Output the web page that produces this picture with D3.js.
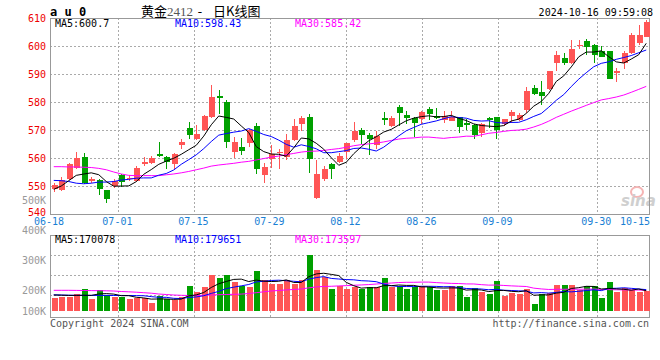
<!DOCTYPE html>
<html>
<head>
<meta charset="utf-8">
<script src="https://cdn.jsdelivr.net/npm/d3@7"></script>
<style>
  body { margin: 0; background: #fff; }
  text { font-family: "DejaVu Sans Mono", monospace; }
</style>
</head>
<body>
<div id="chart"></div>
<script>
// trading days shown, 06-18 .. 10-16
var dates = ["06-18","06-19","06-20","06-21","06-24","06-25","06-26","06-27","06-28",
  "07-01","07-02","07-03","07-04","07-05","07-08","07-09","07-10","07-11","07-12",
  "07-15","07-16","07-17","07-18","07-19","07-22","07-23","07-24","07-25","07-26",
  "07-29","07-30","07-31","08-01","08-02","08-05","08-06","08-07","08-08","08-09",
  "08-12","08-13","08-14","08-15","08-16","08-19","08-20","08-21","08-22","08-23",
  "08-26","08-27","08-28","08-29","08-30","09-02","09-03","09-04","09-05","09-06",
  "09-09","09-10","09-11","09-12","09-13","09-18","09-19","09-20","09-23","09-24",
  "09-25","09-26","09-27","09-30","10-08","10-09","10-10","10-11","10-14","10-15","10-16"];

var opens = [548.8,548.6,552.4,556.4,560.5,551.9,552.1,548.6,550.0,553.8,
  552.4,551.9,557.9,558.3,561.5,560.5,557.9,564.5,570.7,566.9,
  570.0,574.5,582.1,580.0,562.3,564.0,565.2,571.3,553.9,559.5,
  561.7,560.5,566.6,572.1,574.5,545.7,552.6,557.9,558.6,562.3,
  566.4,570.0,568.2,564.8,574.3,571.4,578.1,575.4,574.3,574.0,
  577.4,575.0,573.6,573.3,574.5,572.6,571.7,569.0,574.3,574.5,
  572.1,574.9,573.6,577.1,585.0,583.6,584.5,594.0,595.7,593.8,
  600.0,601.9,600.2,598.1,598.1,590.5,593.8,597.4,601.0,603.3];
var closes = [550.5,552.1,557.7,560.1,551.0,552.6,548.8,545.5,551.7,551.3,
  552.9,556.4,558.6,560.1,560.7,558.6,561.5,565.7,568.3,568.6,
  575.0,581.7,581.4,565.8,565.7,562.6,570.0,556.2,556.9,561.4,
  562.1,566.6,571.3,574.3,559.8,554.3,556.0,556.2,560.7,565.2,
  569.6,568.3,566.9,567.9,573.7,574.3,576.2,574.4,572.6,576.4,
  575.7,574.3,575.0,574.8,570.9,571.9,568.3,572.1,573.7,570.0,
  573.8,576.5,575.4,584.0,582.9,582.1,591.0,596.7,594.0,598.8,
  600.2,599.5,596.7,596.2,588.3,591.0,597.4,603.8,604.0,608.6];
var highs = [551.0,553.1,558.1,562.1,561.9,553.3,552.4,548.6,552.4,554.3,
  553.8,557.1,560.5,560.6,565.7,560.7,561.7,566.9,572.9,571.7,
  575.4,586.1,584.3,580.7,567.4,567.1,570.2,572.5,558.1,564.5,
  563.1,568.6,573.8,575.0,575.7,559.3,557.0,558.3,561.7,565.5,
  573.0,570.7,568.8,569.5,576.4,575.0,578.9,576.9,574.8,576.9,
  578.3,577.9,576.7,576.7,574.8,574.0,572.1,572.6,574.5,574.8,
  574.0,577.1,576.0,585.5,586.2,587.6,591.2,598.3,597.6,602.1,
  602.1,602.4,600.7,600.0,598.3,592.1,598.1,604.5,607.4,609.3];
var lows = [548.0,548.3,552.1,556.2,550.7,551.2,546.9,544.0,549.2,549.8,
  551.7,551.4,557.1,557.9,560.5,556.2,556.0,563.3,566.9,566.4,
  569.5,574.2,575.7,563.7,559.9,561.2,564.0,554.3,551.2,556.6,
  556.2,559.3,566.2,569.5,554.8,545.4,551.9,552.6,558.1,559.8,
  565.7,565.0,561.2,563.1,571.9,570.9,571.4,572.1,567.6,572.1,
  573.6,573.8,572.6,573.1,569.0,570.0,566.9,567.4,570.7,566.9,
  571.4,572.4,573.3,576.2,582.6,579.0,584.3,591.2,593.1,593.6,
  598.8,596.9,593.8,596.0,588.1,587.1,591.7,597.1,600.2,603.1];
// volume (lots)
var volumes = [106700,115100,117600,140300,182300,100800,173900,134400,117600,117600,
  100800,106700,106700,67200,123500,100800,89900,117600,207500,159600,
  201600,302400,274700,302400,246100,212500,201600,336000,257900,229300,
  224300,257900,229300,257900,470400,341900,285600,182300,207500,184800,
  201600,184800,201600,201600,274700,201600,212500,184800,201600,212500,
  201600,173900,173900,207500,207500,115100,190700,162100,140300,249500,
  123500,151200,145300,184800,56300,140300,151200,218400,218400,218400,
  173900,207500,212500,111200,241100,157100,190700,173900,162100,166500];

// moving averages before enough days are on screen
var ma5Head = [548.8, 550.0, 551.9, 553.8];
var ma10Head = [552.0, 551.9, 551.6, 551.0, 550.8, 551.0, 551.4, 551.4, 551.6];
var ma30Head = [556.9, 556.9, 556.8, 556.8, 556.7, 556.6, 556.3, 555.8, 555.0, 554.3,
  553.8, 553.7, 553.7, 553.7, 553.7, 554.0, 554.3, 554.7, 555.2, 555.8,
  556.4, 557.1, 557.5, 557.8, 558.1, 558.5, 558.8, 559.3, 559.8];
var vma5Head = [134400, 132700, 131000, 131000];
var vma10Head = [136100, 134400, 132700, 131900, 131000, 131000, 131000, 131000, 130200];
var vma30Head = [173900, 173900, 173900, 173000, 172200, 171400, 170500, 169700, 168000, 163800,
  161300, 157900, 153700, 149500, 142800, 138600, 134400, 131900, 130200, 130200,
  132700, 134400, 136900, 138600, 140300, 142000, 147000, 153700, 161300];

// legend values as printed on the chart
var priceLegend = ['MA5:600.7', 'MA10:598.43', 'MA30:585.42'];
var volLegend = ['MA5:170078', 'MA10:179651', 'MA30:173597'];

var priceTicks = [610, 600, 590, 580, 570, 560, 550, 540];
var volTicks = [500000, 400000, 300000, 200000, 100000];
var dateTicks = [0, 9, 19, 29, 39, 49, 59, 72, 78];

var width = 660, height = 360;
var left = 50, right = 650, pTop = 18, pBottom = 214, vTop = 235, vBottom = 317, vBase = 311;
var RED = '#ff5555', GREEN = '#00a000';

var svg = d3.select('#chart').append('svg')
  .attr('width', width).attr('height', height)
  .style('background', '#fff');

var x = d3.scaleBand().domain(d3.range(dates.length)).range([left, right]);
var cx = function(i) { return x(i) + x.bandwidth() / 2; };
var xTick = d3.scaleLinear().domain([0, 80]).range([left, left + 7.6 * 80]);
var y = d3.scaleLinear().domain([540, 610]).range([pBottom, pTop]);
var yv = d3.scaleLinear().domain([0, 638400]).range([vBase, vBase - 76]);
var yvLabel = d3.scaleLinear().domain([200000, 500000]).range([290.7, 200.3]);

function ma(arr, n, head) {
  return arr.map(function(d, i) {
    if (i < n - 1) return head[i];
    return d3.mean(arr.slice(i - n + 1, i + 1));
  });
}

// grid
var grid = svg.append('g').attr('stroke', '#aaa').attr('stroke-dasharray', '2,2')
  .attr('shape-rendering', 'crispEdges');
[600, 590, 580, 570, 560, 550].forEach(function(p) {
  grid.append('line').attr('x1', left).attr('x2', right)
    .attr('y1', Math.round(y(p)) + 0.5).attr('y2', Math.round(y(p)) + 0.5);
});
[255, 275, 295].forEach(function(v) {
  grid.append('line').attr('x1', left).attr('x2', right).attr('y1', v + 0.5).attr('y2', v + 0.5);
});
dateTicks.slice(1, -1).forEach(function(i) {
  var gx = Math.round(xTick(i)) + 0.5;
  grid.append('line').attr('x1', gx).attr('x2', gx).attr('y1', pTop).attr('y2', pBottom);
  grid.append('line').attr('x1', gx).attr('x2', gx).attr('y1', vTop).attr('y2', vBottom);
});

// watermark
var wm = svg.append('g');
wm.append('ellipse').attr('cx', 637).attr('cy', 192).attr('rx', 6).attr('ry', 5)
  .attr('fill', 'none').attr('stroke', '#f5b5b5').attr('stroke-width', 2);
wm.append('text').attr('x', 621).attr('y', 206).text('sina')
  .style('font-family', 'DejaVu Sans').style('font-style', 'italic').style('font-weight', 'bold')
  .style('font-size', '15px').attr('fill', '#cfcfcf');

// frames
var frame = svg.append('g').attr('fill', 'none').attr('stroke', '#999').attr('shape-rendering', 'crispEdges');
frame.append('rect').attr('x', left + 0.5).attr('y', pTop + 0.5).attr('width', right - left - 1).attr('height', pBottom - pTop);
frame.append('rect').attr('x', left + 0.5).attr('y', vTop + 0.5).attr('width', right - left - 1).attr('height', vBottom - vTop);

function col(i) { return closes[i] >= opens[i] ? RED : GREEN; }

// candles
var candles = svg.append('g').selectAll('g').data(dates).enter().append('g');
candles.append('line')
  .attr('x1', function(d, i) { return Math.round(cx(i)) + 0.5; })
  .attr('x2', function(d, i) { return Math.round(cx(i)) + 0.5; })
  .attr('y1', function(d, i) { return y(highs[i]); })
  .attr('y2', function(d, i) { return y(lows[i]); })
  .attr('stroke', function(d, i) { return col(i); })
  .attr('shape-rendering', 'crispEdges');
candles.append('rect')
  .attr('x', function(d, i) { return Math.round(cx(i)) - 2; })
  .attr('width', 6)
  .attr('y', function(d, i) { return y(Math.max(opens[i], closes[i])); })
  .attr('height', function(d, i) { return Math.max(1, Math.abs(y(opens[i]) - y(closes[i]))); })
  .attr('fill', function(d, i) { return col(i); })
  .attr('shape-rendering', 'crispEdges');

// volume bars
svg.append('g').selectAll('rect').data(volumes).enter().append('rect')
  .attr('x', function(d, i) { return Math.round(cx(i)) - 2; })
  .attr('width', 6)
  .attr('y', function(d) { return yv(d); })
  .attr('height', function(d) { return vBase - yv(d); })
  .attr('fill', function(d, i) { return col(i); })
  .attr('shape-rendering', 'crispEdges');

// moving averages
var pLine = d3.line().x(function(d, i) { return cx(i); }).y(function(d) { return y(d); });
var vLine = d3.line().x(function(d, i) { return cx(i); }).y(function(d) { return yv(d); });
var ma30 = ma(closes, 30, ma30Head), ma10 = ma(closes, 10, ma10Head), ma5 = ma(closes, 5, ma5Head);
var vma30 = ma(volumes, 30, vma30Head), vma10 = ma(volumes, 10, vma10Head), vma5 = ma(volumes, 5, vma5Head);
[[ma30, '#ff00ff'], [ma10, '#0000ff'], [ma5, '#000']].forEach(function(s) {
  svg.append('path').attr('d', pLine(s[0])).attr('fill', 'none').attr('stroke', s[1]).attr('stroke-width', 1);
});
[[vma30, '#ff00ff'], [vma10, '#0000ff'], [vma5, '#000']].forEach(function(s) {
  svg.append('path').attr('d', vLine(s[0])).attr('fill', 'none').attr('stroke', s[1]).attr('stroke-width', 1);
});

// axis labels
svg.append('g').selectAll('text').data(priceTicks).enter().append('text')
  .attr('x', 46).attr('y', function(d) { return Math.min(y(d), 212.5); }).attr('dy', '0.35em')
  .attr('text-anchor', 'end').attr('fill', '#e00').style('font-size', '10px')
  .text(function(d) { return d; });
svg.append('g').selectAll('text').data(volTicks).enter().append('text')
  .attr('x', 46).attr('y', function(d) { return Math.min(yvLabel(d), 311.3); }).attr('dy', '0.35em')
  .attr('text-anchor', 'end').attr('fill', '#999').style('font-size', '10px')
  .text(function(d) { return (d / 1000) + 'K'; });
svg.append('g').selectAll('text').data(dateTicks).enter().append('text')
  .attr('x', function(d) { return Math.min(xTick(d) - 1, 635); }).attr('y', 224.5)
  .attr('text-anchor', 'middle').attr('fill', '#1a7fd4').style('font-size', '10px')
  .text(function(d) { return dates[d]; });

// MA legends
function legend(yy, vals) {
  var g = svg.append('g').style('font-size', '10px');
  g.append('text').attr('x', 55).attr('y', yy).attr('fill', '#000').text(vals[0]);
  g.append('text').attr('x', 175).attr('y', yy).attr('fill', '#0000ff').text(vals[1]);
  g.append('text').attr('x', 295).attr('y', yy).attr('fill', '#ff00ff').text(vals[2]);
}
legend(27, priceLegend);
legend(243, volLegend);

// header
svg.append('text').attr('x', 50).attr('y', 16).text('a u 0')
  .style('font-size', '12px').style('font-weight', 'bold');
var title = svg.append('text').attr('y', 16).style('font-size', '13px');
title.append('tspan').attr('x', 141).style('font-family', 'Noto Sans CJK SC').text('黄金');
title.append('tspan').attr('x', 167).attr('fill', '#555').style('font-family', 'Liberation Serif').style('font-size', '13px').text('2412');
title.append('tspan').attr('x', 196).text('-');
title.append('tspan').attr('x', 213).style('font-family', 'Noto Sans CJK SC').text('日K线图');
svg.append('text').attr('x', 653).attr('y', 16).attr('text-anchor', 'end')
  .style('font-size', '10px').text('2024-10-16 09:59:08');

// footer
svg.append('text').attr('x', 50).attr('y', 327).attr('fill', '#555').style('font-size', '10px').text('Copyright 2024 SINA.COM');
svg.append('text').attr('x', 649).attr('y', 327).attr('text-anchor', 'end').attr('fill', '#555')
  .style('font-size', '10px').text('http://finance.sina.com.cn');
</script>
</body>
</html>
